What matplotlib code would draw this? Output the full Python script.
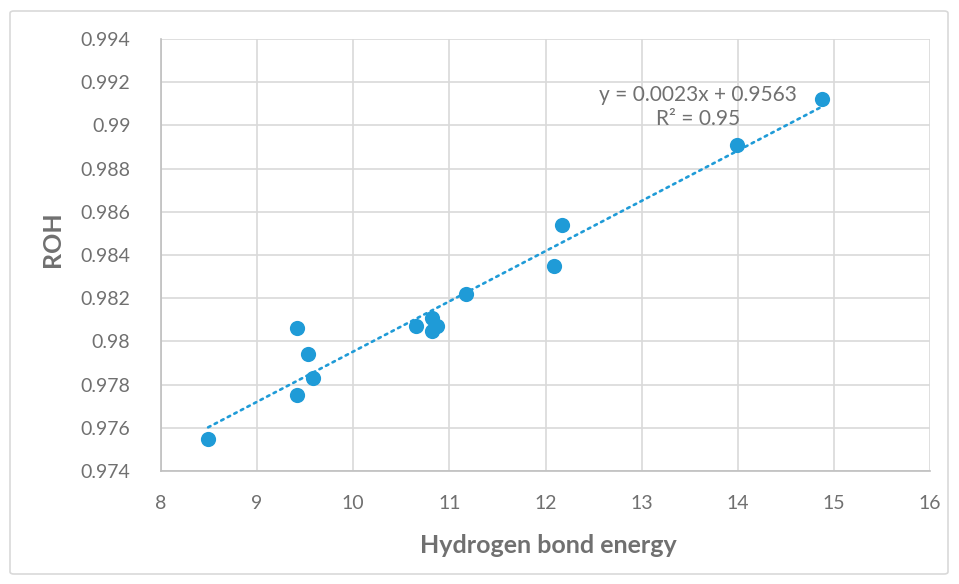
import numpy as np
import matplotlib
matplotlib.use("Agg")
import matplotlib.pyplot as plt
from matplotlib.patches import FancyBboxPatch

plt.rcParams["font.family"] = ["Lato", "DejaVu Sans"]

# Data
hb_energy = [8.49, 9.41, 9.41, 9.53, 9.58, 10.65, 10.82, 10.82, 10.87, 11.17, 12.09, 12.17, 13.99, 14.88]
roh = [0.9755, 0.9806, 0.9775, 0.9794, 0.9783, 0.9807, 0.9811, 0.9805, 0.9807, 0.9822, 0.9835, 0.9854, 0.9891, 0.9912]
x_ticks = [8, 9, 10, 11, 12, 13, 14, 15, 16]
y_ticks = [0.974, 0.976, 0.978, 0.98, 0.982, 0.984, 0.986, 0.988, 0.99, 0.992, 0.994]
y_tick_labels = ["0.974", "0.976", "0.978", "0.98", "0.982", "0.984", "0.986", "0.988", "0.99", "0.992", "0.994"]
eq_text = "y = 0.0023x + 0.9563\nR² = 0.95"

blue = "#1f9bd7"
grey_txt = "#707070"

fig = plt.figure(figsize=(9.59, 5.84), dpi=100)
ax = fig.add_axes([161 / 959, 1 - 471 / 584, (930 - 161) / 959, (471 - 39) / 584])

# chart border
fig.patches.append(FancyBboxPatch((10 / 959, 10 / 584), 938 / 959, 563 / 584,
                                  boxstyle="round,pad=0,rounding_size=0.004",
                                  transform=fig.transFigure, fill=False,
                                  edgecolor="#d9d9d9", linewidth=1.2))

x = np.array(hb_energy)
y = np.array(roh)
slope, icpt = np.polyfit(x, y, 1)
xl = np.array([x.min(), x.max()])
ax.plot(xl, slope * xl + icpt, color=blue, linewidth=1.9,
        linestyle=(0, (1, 1.8)), dash_capstyle="round", zorder=2)
ax.scatter(x, y, s=120, color=blue, zorder=3, linewidths=0)

ax.set_xlim(8, 16)
ax.set_ylim(0.974, 0.994)
ax.set_xticks(x_ticks)
ax.set_yticks(y_ticks)
ax.set_yticklabels(y_tick_labels)
ax.grid(True, color="#d9d9d9", linewidth=1.2)
ax.set_axisbelow(True)
for s in ["top", "right"]:
    ax.spines[s].set_visible(False)
for s in ["left", "bottom"]:
    ax.spines[s].set_color("#bfbfbf")
    ax.spines[s].set_linewidth(1.2)
ax.tick_params(length=0, labelsize=14, labelcolor=grey_txt)
ax.tick_params(axis="x", pad=17)
ax.tick_params(axis="y", pad=22)

ax.set_xlabel("Hydrogen bond energy", fontsize=18, fontweight="bold", color=grey_txt)
ax.xaxis.set_label_coords(0.504, -0.145)
ax.set_ylabel("ROH", fontsize=18, fontweight="bold", color=grey_txt)
ax.yaxis.set_label_coords(-0.126, 0.537)

ax.text(13.59, 0.99083, eq_text, fontsize=15, color=grey_txt, ha="center",
        va="center", linespacing=1.25)

fig.savefig("out.png", dpi=100)
